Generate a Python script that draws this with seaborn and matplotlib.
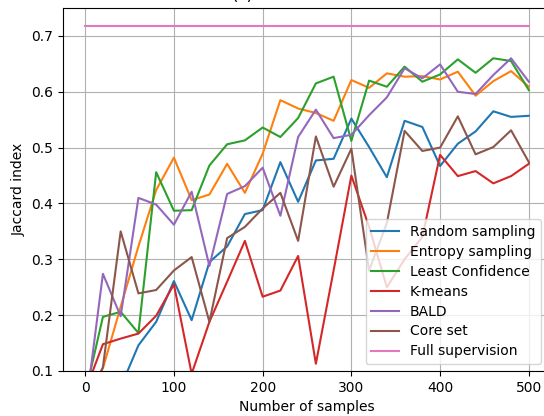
import numpy as np
import pandas as pd
import matplotlib
matplotlib.use("Agg")
import matplotlib.pyplot as plt
import seaborn as sns
from matplotlib.lines import Line2D

samples = list(range(0, 501, 20))

random_sampling = [0.04, 0.055, 0.071, 0.146, 0.188, 0.261, 0.191, 0.295, 0.323, 0.381,
                   0.388, 0.474, 0.403, 0.477, 0.480, 0.552, 0.501, 0.447, 0.548, 0.537,
                   0.467, 0.507, 0.529, 0.565, 0.555, 0.557]
entropy_sampling = [0.04, 0.105, 0.215, 0.323, 0.424, 0.482, 0.406, 0.416, 0.471, 0.419,
                    0.489, 0.585, 0.570, 0.562, 0.548, 0.621, 0.607, 0.633, 0.627, 0.628,
                    0.622, 0.636, 0.593, 0.619, 0.637, 0.609]
least_confidence = [0.059, 0.197, 0.206, 0.168, 0.456, 0.387, 0.388, 0.468, 0.506, 0.513,
                    0.536, 0.519, 0.553, 0.615, 0.627, 0.512, 0.620, 0.609, 0.645, 0.618,
                    0.631, 0.658, 0.634, 0.660, 0.655, 0.603]
kmeans = [0.064, 0.148, 0.158, 0.167, 0.199, 0.255, 0.095, 0.188, 0.260, 0.333,
          0.233, 0.244, 0.306, 0.113, 0.280, 0.450, 0.358, 0.250, 0.300, 0.340,
          0.487, 0.449, 0.458, 0.436, 0.449, 0.471]
bald = [0.026, 0.274, 0.198, 0.410, 0.398, 0.362, 0.421, 0.288, 0.417, 0.431,
        0.464, 0.378, 0.519, 0.568, 0.517, 0.523, 0.558, 0.590, 0.642, 0.624,
        0.649, 0.600, 0.596, 0.630, 0.660, 0.618]
core_set = [0.04, 0.107, 0.350, 0.239, 0.245, 0.280, 0.304, 0.188, 0.338, 0.358,
            0.391, 0.419, 0.333, 0.520, 0.430, 0.498, 0.280, 0.365, 0.530, 0.494,
            0.500, 0.556, 0.488, 0.501, 0.531, 0.474]
full_supervision = [0.718] * len(samples)

series_names = ["Random sampling", "Entropy sampling", "Least Confidence", "K-means",
                "BALD", "Core set", "Full supervision"]
series_values = [random_sampling, entropy_sampling, least_confidence, kmeans,
                 bald, core_set, full_supervision]

yticks = [0.1, 0.2, 0.3, 0.4, 0.5, 0.6, 0.7]
xticks = [0, 100, 200, 300, 400, 500]

df = pd.concat([pd.DataFrame({"samples": samples, "jaccard": v, "method": n})
                for n, v in zip(series_names, series_values)], ignore_index=True)

plt.rcParams["font.family"] = ["DejaVu Sans"]
fig = plt.figure(figsize=(5.44, 4.16), dpi=100)
ax = fig.add_axes([63 / 544, 45 / 416, (551 - 63) / 544, (371 - 8) / 416])

palette = sns.color_palette("tab10", 7)
sns.lineplot(data=df, x="samples", y="jaccard", hue="method", hue_order=series_names,
             palette=palette, linewidth=1.5, ax=ax, legend=False)

ax.grid(True, color="#b0b0b0", linewidth=0.8)
ax.set_axisbelow(True)
ax.set_xlim(-25, 525)
ax.set_ylim(0.1, 0.75)
ax.set_xticks(xticks)
ax.set_yticks(yticks)
ax.set_yticklabels([f"{t:.1f}" for t in yticks])
ax.set_xlabel("Number of samples")
ax.set_ylabel("Jaccard index")

handles = [Line2D([0], [0], color=palette[i], lw=1.5) for i in range(len(series_names))]
ax.legend(handles, series_names, loc="lower right",
          bbox_to_anchor=(541 / 544, (416 - 364) / 416), bbox_transform=fig.transFigure,
          borderaxespad=0, labelspacing=0.43)

fig.text(243 / 544, 1 - 4 / 416, "(c)", ha="center", va="bottom", fontsize=12)

fig.savefig("out.png", dpi=100)
